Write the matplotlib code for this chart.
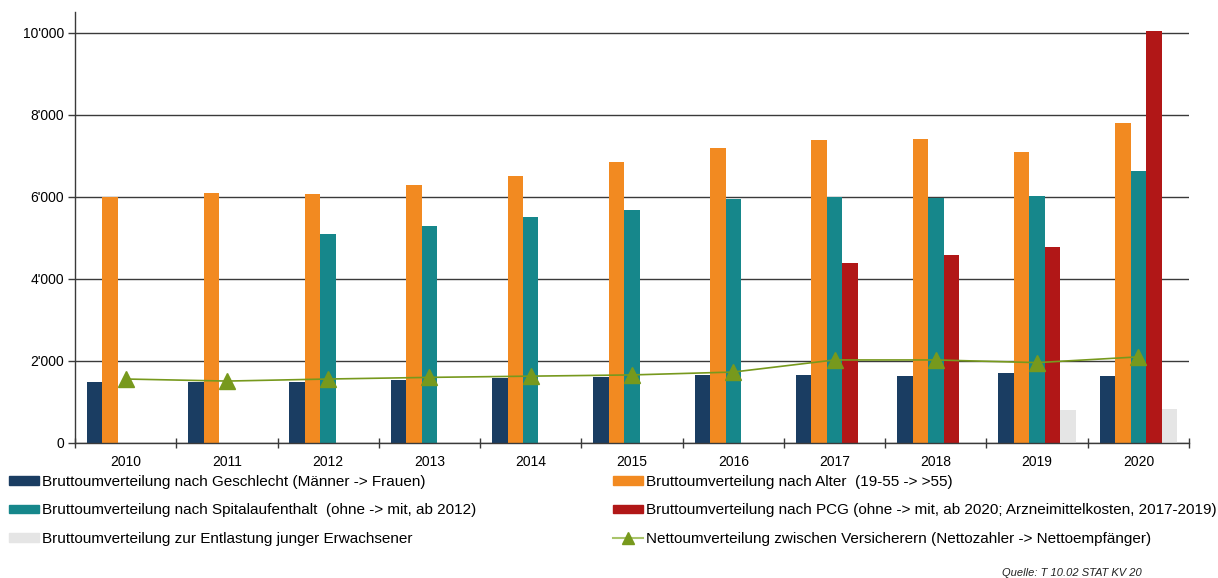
import numpy as np
import matplotlib
matplotlib.use("Agg")
import matplotlib.pyplot as plt
from matplotlib.ticker import FuncFormatter, FixedLocator
from matplotlib.patches import Patch
from matplotlib.lines import Line2D

plt.rcParams['font.family'] = ['Liberation Sans', 'DejaVu Sans']

years = ["2010", "2011", "2012", "2013", "2014", "2015", "2016", "2017", "2018", "2019", "2020"]

geschlecht = [1490, 1490, 1490, 1540, 1580, 1600, 1660, 1650, 1625, 1710, 1630]
alter = [6000, 6100, 6080, 6300, 6520, 6850, 7200, 7380, 7410, 7100, 7800]
spital = [np.nan, np.nan, 5090, 5290, 5510, 5680, 5950, 6010, 5980, 6020, 6630]
pcg = [np.nan, np.nan, np.nan, np.nan, np.nan, np.nan, np.nan, 4390, 4590, 4780, 10040]
entlastung = [np.nan, np.nan, np.nan, np.nan, np.nan, np.nan, np.nan, np.nan, np.nan, 805, 830]
netto = [1560, 1510, 1560, 1600, 1630, 1660, 1730, 2025, 2025, 1960, 2100]

labels = [
    "Bruttoumverteilung nach Geschlecht (Männer -> Frauen)",
    "Bruttoumverteilung nach Alter  (19-55 -> >55)",
    "Bruttoumverteilung nach Spitalaufenthalt  (ohne -> mit, ab 2012)",
    "Bruttoumverteilung nach PCG (ohne -> mit, ab 2020; Arzneimittelkosten, 2017-2019)",
    "Bruttoumverteilung zur Entlastung junger Erwachsener",
    "Nettoumverteilung zwischen Versicherern (Nettozahler -> Nettoempfänger)",
]
colors = ["#1a3d62", "#f28a21", "#16878b", "#b11717", "#e5e5e5"]
line_color = "#77991d"

fig = plt.figure(figsize=(12.18, 5.78), dpi=100)
ax = fig.add_axes([0.0616, 0.2336, 0.9146, 0.7448])

x = np.arange(len(years))
w = 0.153
series = [geschlecht, alter, spital, pcg, entlastung]
for i, (vals, c) in enumerate(zip(series, colors)):
    ax.bar(x + (i - 2) * w, vals, width=w, color=c, linewidth=0, zorder=3)

ax.plot(x, netto, color=line_color, linewidth=1.2, marker="^", markersize=12,
        markerfacecolor=line_color, markeredgecolor=line_color, zorder=4)

ax.set_xlim(-0.5, len(years) - 0.5)
ax.set_ylim(0, 10500)
ax.yaxis.set_major_locator(FixedLocator(np.arange(0, 10001, 2000)))
ax.yaxis.set_major_formatter(FuncFormatter(lambda v, p: f"{int(v):,}".replace(",", "'")))
ax.grid(axis="y", color="#3a3a3a", linewidth=1.0, zorder=1)

ax.set_xticks(x)
ax.set_xticklabels(years)
ax.xaxis.set_minor_locator(FixedLocator(np.arange(-0.5, len(years), 1.0)))
ax.tick_params(axis="x", which="major", length=0, pad=9, labelsize=10)
ax.tick_params(axis="x", which="minor", length=7, direction="inout", width=1.0, color="#3a3a3a")
ax.tick_params(axis="y", length=5, width=1.0, color="#3a3a3a", labelsize=10, pad=3)

for s in ["top", "right"]:
    ax.spines[s].set_visible(False)
for s in ["left", "bottom"]:
    ax.spines[s].set_color("#3a3a3a")
    ax.spines[s].set_linewidth(1.0)
    ax.spines[s].set_zorder(5)

handles = [Patch(color=c) for c in colors]
line_handle = Line2D([], [], color="#a9c46a", linewidth=1.5, marker="^", markersize=8,
                     markerfacecolor=line_color, markeredgecolor=line_color)

legend_kw = dict(loc="upper left", frameon=False, fontsize=11, handlelength=1.95,
                 handleheight=0.5, handletextpad=0.2, labelspacing=0.95,
                 borderaxespad=0, borderpad=0)
fig.legend([handles[0], handles[2], handles[4]], [labels[0], labels[2], labels[4]],
           bbox_to_anchor=(9 / 1218, 0.1786), **legend_kw)
fig.legend([handles[1], handles[3], line_handle], [labels[1], labels[3], labels[5]],
           bbox_to_anchor=(613 / 1218, 0.1786), **legend_kw)

fig.text(0.9375, 0.0, "Quelle: T 10.02 STAT KV 20", fontsize=8, style="italic",
         ha="right", va="bottom", color="#222222")

fig.savefig("out.png", dpi=100)
